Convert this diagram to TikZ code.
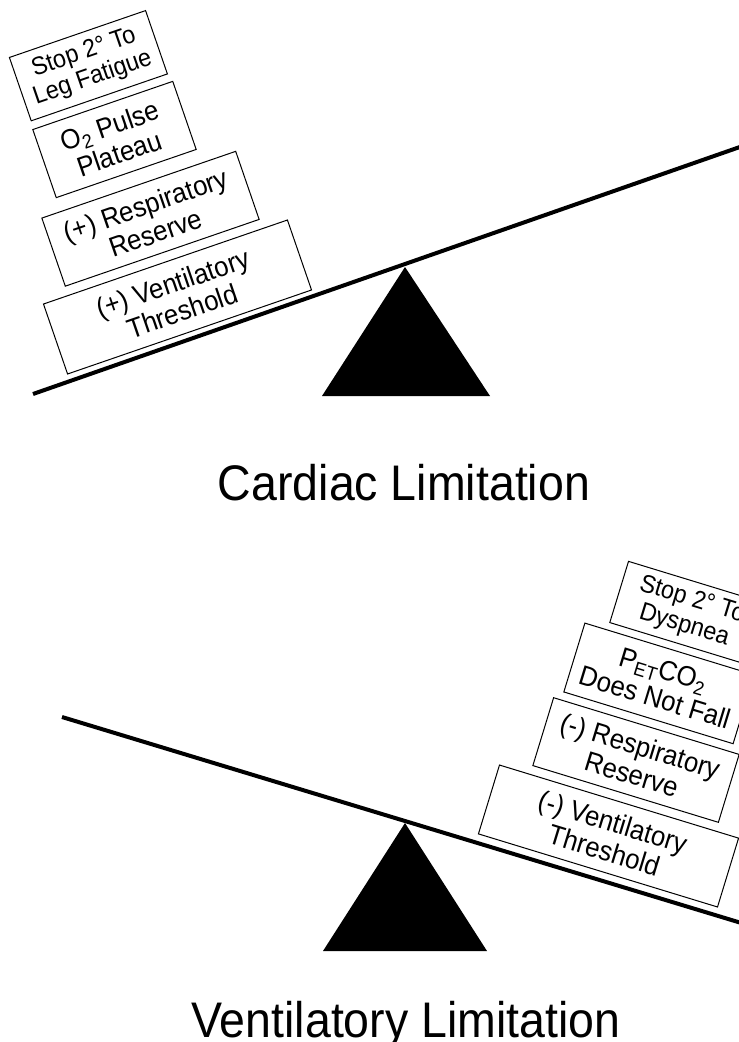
\documentclass[tikz,border=0pt]{standalone}
\usepackage{fontspec}
\setmainfont[FakeStretch=0.93]{Liberation Sans}
\begin{document}
\begin{tikzpicture}[x=1pt,y=1pt,
  lbl/.style={draw=black, line width=1pt, fill=white, align=center, inner sep=0pt,
    font=\fontsize{27.8}{29.5}\selectfont},
  smalllbl/.style={lbl, font=\fontsize{25.2}{27}\selectfont},
  beam/.style={line width=4pt},
  fulcrum/.style={fill=black, draw=none},
  captext/.style={font=\fontsize{50}{52}\selectfont, anchor=base, inner sep=0pt}
]
\clip (0,0) rectangle (739,-1042);
\fill[white] (0,0) rectangle (739,-1042);

% ---- top seesaw (cardiac limitation)
\coordinate (tp1) at (322,-396);
\coordinate (tp2) at (405,-267);
\coordinate (tp3) at (490,-396);
\fill[fulcrum] (tp1) -- (tp2) -- (tp3) -- cycle;
\coordinate (tbl) at (33,-394);
\coordinate (tbr) at (745,-145.2);
\draw[beam] (tbl) -- (tbr);

\node[smalllbl, rotate=19, minimum width=144, minimum height=67] (t1) at (88.4,-65.7) {Stop 2° To\\Leg Fatigue};
\node[lbl, rotate=19, minimum width=148, minimum height=72] (t2) at (114.5,-139.5) {O\textsubscript{2} Pulse\\Plateau};
\node[lbl, rotate=19, minimum width=205, minimum height=72] (t3) at (150.5,-218.75) {(+) Respiratory\\Reserve};
\node[lbl, rotate=19, minimum width=258, minimum height=74] (t4) at (177.5,-297) {(+) Ventilatory\\Threshold};

\node[captext] (c1) at (404,-500) {Cardiac Limitation};

% ---- bottom seesaw (ventilatory limitation)
\coordinate (bp1) at (323,-951);
\coordinate (bp2) at (405,-823);
\coordinate (bp3) at (487,-951);
\fill[fulcrum] (bp1) -- (bp2) -- (bp3) -- cycle;
\coordinate (bbl) at (62,-717);
\coordinate (bbr) at (745,-924.1);
\draw[beam] (bbl) -- (bbr);

\node[smalllbl, rotate=-17, minimum width=144, minimum height=64] (b1) at (688,-613) {Stop 2° To\\Dyspnea};
\node[lbl, rotate=-17, minimum width=177, minimum height=72] (b2) at (659,-683.4) {P\textsubscript{ET}CO\textsubscript{2}\\Does Not Fall};
\node[lbl, rotate=-17, minimum width=194, minimum height=71] (b3) at (636,-760) {(-) Respiratory\\Reserve};
\node[lbl, rotate=-17, minimum width=250, minimum height=72] (b4) at (608.5,-836) {(-) Ventilatory\\Threshold};

\node[captext] (c2) at (406,-1037) {Ventilatory Limitation};
\end{tikzpicture}
\end{document}
